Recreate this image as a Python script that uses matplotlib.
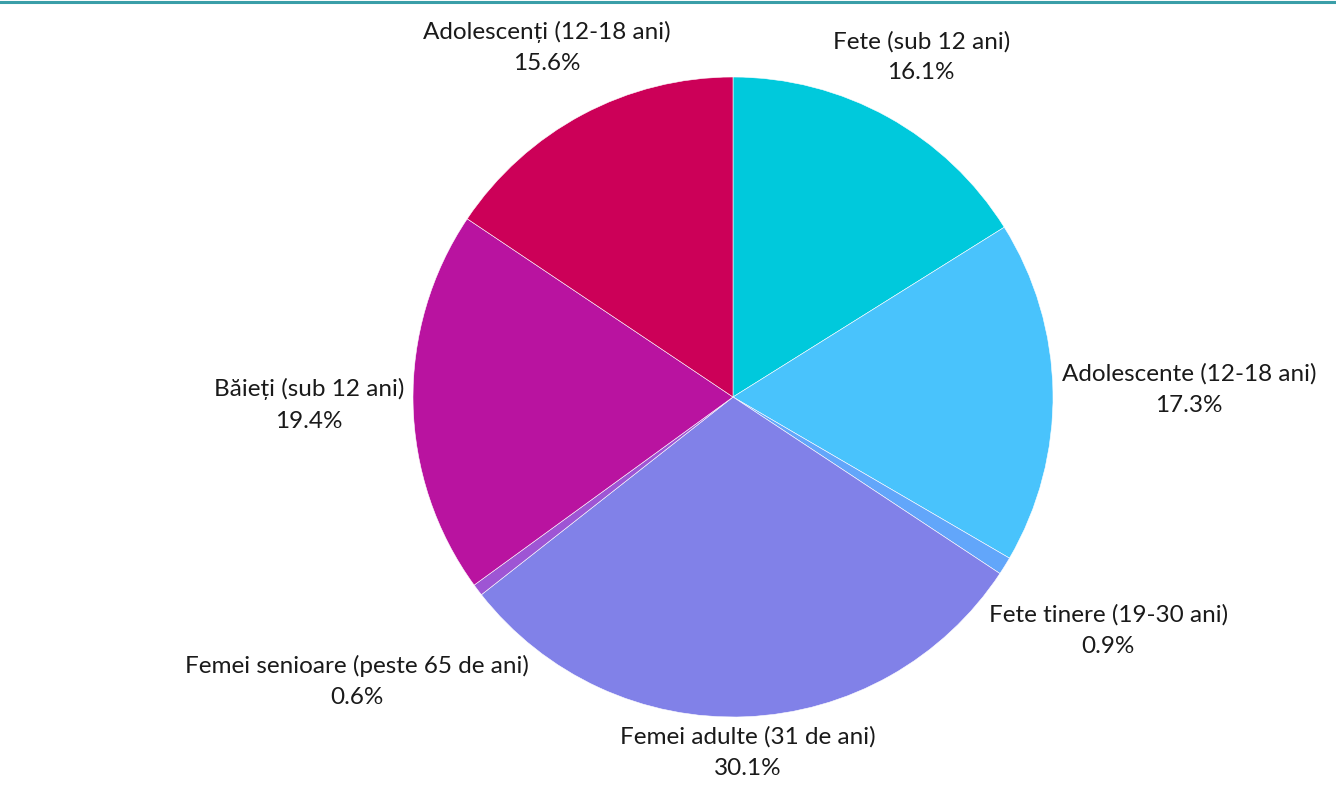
import matplotlib.pyplot as plt
import numpy as np

# ---------------- DATA ----------------
labels = [
    'Fete (sub 12 ani)',
    'Adolescente (12-18 ani)',
    'Fete tinere (19-30 ani)',
    'Femei adulte (31 de ani)',
    'Femei senioare (peste 65 de ani)',
    'Băieți (sub 12 ani)',
    'Adolescenți (12-18 ani)',
]
shares = [16.1, 17.3, 0.9, 30.1, 0.6, 19.4, 15.6]
colors = ['#00c9dc', '#49c3fc', '#62a6fa', '#8181e8', '#9e55d4', '#b913a0', '#cc0058']

# ---------------- FIGURE ----------------
W, H = 1336, 787
fig = plt.figure(figsize=(W / 100, H / 100), dpi=100)
plt.rcParams['font.family'] = ['Lato', 'DejaVu Sans']

# thin teal rule along the top edge
fig.add_artist(plt.Line2D([0, 1], [1 - 1.5 / H, 1 - 1.5 / H], color='#3a9ea8',
                          linewidth=2.2, transform=fig.transFigure))

cx, cy, R = 733, 397, 320
ax = fig.add_axes([(cx - R) / W, (H - cy - R) / H, 2 * R / W, 2 * R / H])

wedges, _ = ax.pie(
    shares,
    colors=colors,
    startangle=90,
    counterclock=False,
    radius=1,
    wedgeprops=dict(edgecolor='white', linewidth=0.4),
)
# pie() pads the limits, keep the pie filling the axes
ax.set_xlim(-1, 1)
ax.set_ylim(-1, 1)
ax.set_aspect('equal')
ax.axis('off')

fig.canvas.draw()
renderer = fig.canvas.get_renderer()


def box_clearance(d, c, s, hw, hh):
    # distance from pie centre to nearest point of a label box centred at d*(c, s)
    x, y = d * c, d * s
    return np.hypot(max(0, abs(x) - hw), max(0, abs(y) - hh))


gap = 9  # px between pie edge and label box
for w, lab, val in zip(wedges, labels, shares):
    ang = np.deg2rad((w.theta1 + w.theta2) / 2)
    c, s = np.cos(ang), np.sin(ang)
    t = fig.text(0, 0, f'{lab}\n{val:.1f}%', ha='center', va='center',
                 fontsize=17.5, color='#1a1a1a', linespacing=1.6,
                 multialignment='center')
    bb = t.get_window_extent(renderer)
    hw, hh = bb.width / 2, bb.height / 2
    lo, hi = 0.0, R + gap + hw + hh
    for _ in range(50):
        mid = (lo + hi) / 2
        if box_clearance(mid, c, s, hw, hh) < R + gap:
            lo = mid
        else:
            hi = mid
    px = cx + hi * c
    py = (H - cy) + hi * s
    t.set_position((px / W, py / H))

fig.savefig('out.png', dpi=100)
